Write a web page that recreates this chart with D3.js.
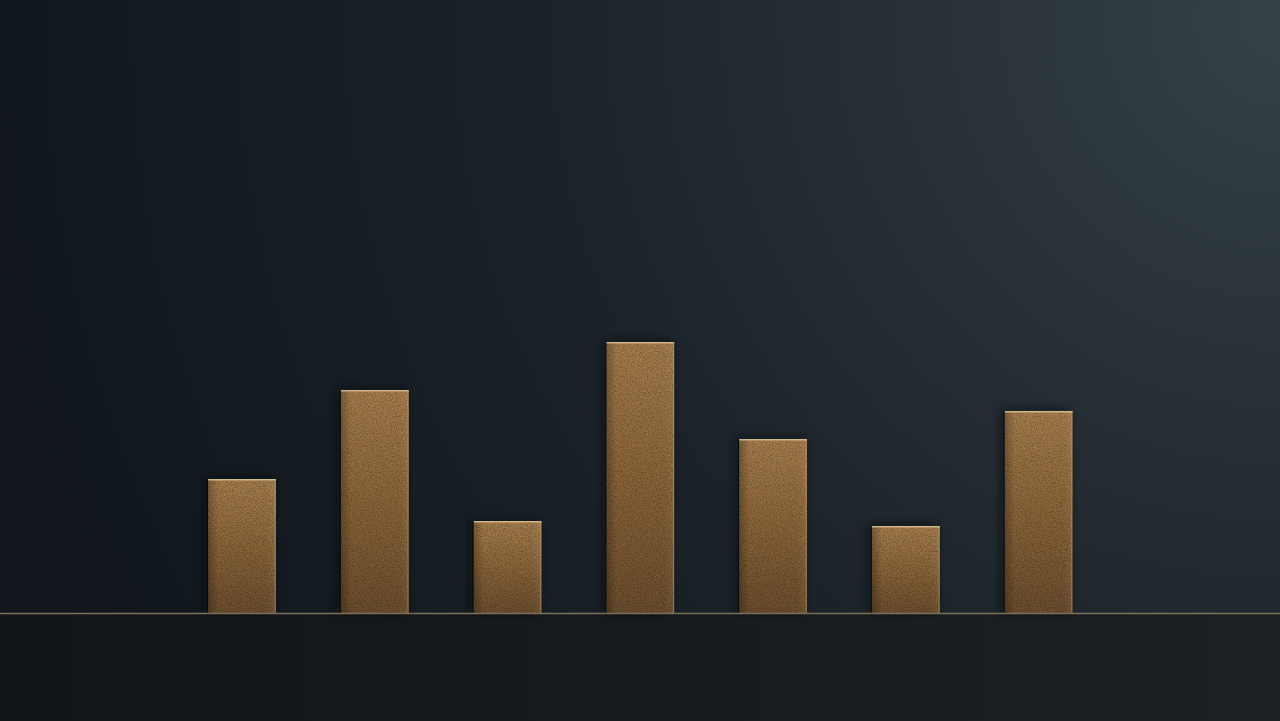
<!DOCTYPE html>
<html>
<head>
<meta charset="utf-8">
<script src="https://cdn.jsdelivr.net/npm/d3@7"></script>
<style>
html,body{margin:0;padding:0;background:#12181e;overflow:hidden;}
svg{display:block;}
</style>
</head>
<body>
<svg id="chart" width="1280" height="721"></svg>
<script>
const categories = ["1", "2", "3", "4", "5", "6", "7"];
const values = [134, 223, 92, 271, 174, 87, 202];

const W = 1280, H = 721, baseY = 613;
const svg = d3.select("#chart");
const defs = svg.append("defs");

// background gradient
const bg = defs.append("radialGradient").attr("id", "bg")
  .attr("gradientUnits", "userSpaceOnUse")
  .attr("cx", 1280).attr("cy", 20).attr("r", 1350);
bg.append("stop").attr("offset", "0").attr("stop-color", "#364247");
bg.append("stop").attr("offset", "0.25").attr("stop-color", "#283237");
bg.append("stop").attr("offset", "0.55").attr("stop-color", "#1b232a");
bg.append("stop").attr("offset", "0.85").attr("stop-color", "#131a20");
bg.append("stop").attr("offset", "1").attr("stop-color", "#10161b");

const floor = defs.append("linearGradient").attr("id", "floor")
  .attr("x1", 0).attr("y1", 0).attr("x2", 1).attr("y2", 0);
floor.append("stop").attr("offset", "0").attr("stop-color", "#111519");
floor.append("stop").attr("offset", "1").attr("stop-color", "#1c2124");

const gold = defs.append("linearGradient").attr("id", "gold")
  .attr("x1", 0).attr("y1", 0).attr("x2", 0).attr("y2", 1);
gold.append("stop").attr("offset", "0").attr("stop-color", "#a67e4d");
gold.append("stop").attr("offset", "0.5").attr("stop-color", "#8b6539");
gold.append("stop").attr("offset", "1").attr("stop-color", "#6c4e2d");

const side = defs.append("linearGradient").attr("id", "side")
  .attr("x1", 0).attr("y1", 0).attr("x2", 1).attr("y2", 0);
side.append("stop").attr("offset", "0").attr("stop-color", "#000").attr("stop-opacity", 0.25);
side.append("stop").attr("offset", "0.15").attr("stop-color", "#000").attr("stop-opacity", 0);
side.append("stop").attr("offset", "0.85").attr("stop-color", "#fff").attr("stop-opacity", 0);
side.append("stop").attr("offset", "1").attr("stop-color", "#fff").attr("stop-opacity", 0.06);

// grain filter
const grain = defs.append("filter").attr("id", "grain").attr("x", 0).attr("y", 0).attr("width", 1).attr("height", 1);
grain.append("feTurbulence").attr("type", "fractalNoise").attr("baseFrequency", 0.8).attr("numOctaves", 2).attr("seed", 3).attr("result", "n");
grain.append("feColorMatrix").attr("in", "n").attr("type", "matrix")
  .attr("values", "0 0 0 0 0  0 0 0 0 0  0 0 0 0 0  0 0 0 -1.6 1.0").attr("result", "a");
grain.append("feComposite").attr("in", "a").attr("in2", "SourceGraphic").attr("operator", "in");

const shadow = defs.append("filter").attr("id", "shadow").attr("x", -0.3).attr("y", -0.1).attr("width", 1.6).attr("height", 1.2);
shadow.append("feGaussianBlur").attr("stdDeviation", 4);

svg.append("rect").attr("width", W).attr("height", baseY).attr("fill", "url(#bg)");
svg.append("rect").attr("y", baseY).attr("width", W).attr("height", H - baseY).attr("fill", "url(#floor)");

const x = d3.scaleBand().domain(categories).range([175.6, 1104.9]).paddingInner(0.488).paddingOuter(0.244);
const y = d3.scaleLinear().domain([0, 300]).range([baseY, baseY - 300]);

const data = categories.map((c, i) => ({c, v: values[i]}));

const g = svg.append("g");
// soft shadows
g.selectAll("rect.sh").data(data).join("rect").attr("class", "sh")
  .attr("x", d => x(d.c) - 4).attr("y", d => y(d.v) - 2)
  .attr("width", x.bandwidth() + 2).attr("height", d => baseY - y(d.v) + 2)
  .attr("fill", "#05080b").attr("opacity", 0.55).attr("filter", "url(#shadow)");

g.selectAll("rect.bar").data(data).join("rect").attr("class", "bar")
  .attr("x", d => x(d.c)).attr("y", d => y(d.v))
  .attr("width", x.bandwidth()).attr("height", d => baseY - y(d.v))
  .attr("fill", "url(#gold)");
g.selectAll("rect.side").data(data).join("rect").attr("class", "side")
  .attr("x", d => x(d.c)).attr("y", d => y(d.v))
  .attr("width", x.bandwidth()).attr("height", d => baseY - y(d.v))
  .attr("fill", "url(#side)");
g.selectAll("rect.grain").data(data).join("rect").attr("class", "grain")
  .attr("x", d => x(d.c)).attr("y", d => y(d.v))
  .attr("width", x.bandwidth()).attr("height", d => baseY - y(d.v))
  .attr("fill", "#3a2410").attr("opacity", 0.4).attr("filter", "url(#grain)");
// top highlight edge
g.selectAll("line.top").data(data).join("line").attr("class", "top")
  .attr("x1", d => x(d.c)).attr("x2", d => x(d.c) + x.bandwidth())
  .attr("y1", d => y(d.v) + 0.75).attr("y2", d => y(d.v) + 0.75)
  .attr("stroke", "#dcc294").attr("stroke-width", 1.5).attr("opacity", 0.85);
// right edge highlight
g.selectAll("line.right").data(data).join("line").attr("class", "right")
  .attr("x1", d => x(d.c) + x.bandwidth() - 0.75).attr("x2", d => x(d.c) + x.bandwidth() - 0.75)
  .attr("y1", d => y(d.v)).attr("y2", baseY)
  .attr("stroke", "#c9a875").attr("stroke-width", 1).attr("opacity", 0.45);
// left dark edge
g.selectAll("line.left").data(data).join("line").attr("class", "left")
  .attr("x1", d => x(d.c) - 0.5).attr("x2", d => x(d.c) - 0.5)
  .attr("y1", d => y(d.v)).attr("y2", baseY)
  .attr("stroke", "#07090c").attr("stroke-width", 1.2).attr("opacity", 0.8);

// baseline
svg.append("line").attr("x1", 0).attr("x2", W).attr("y1", baseY + 0.5).attr("y2", baseY + 0.5)
  .attr("stroke", "#8f7f63").attr("stroke-width", 1.5).attr("opacity", 0.85);
</script>
</body>
</html>
